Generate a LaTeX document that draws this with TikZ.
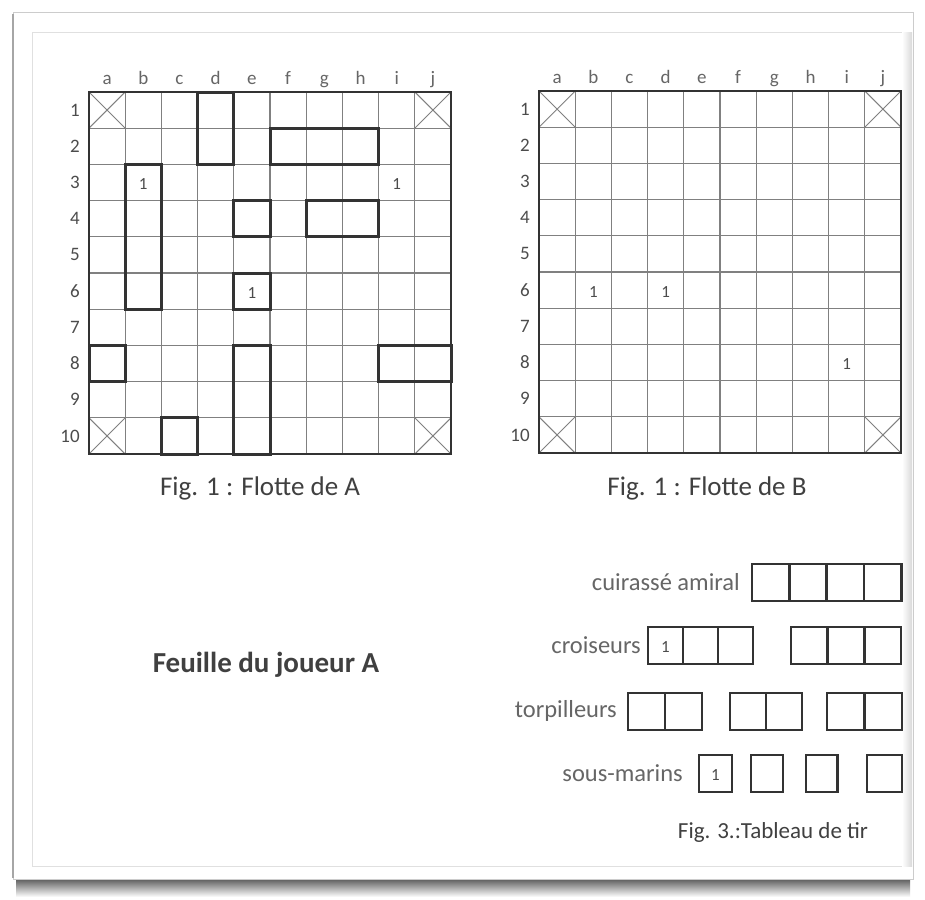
\documentclass[tikz,border=0pt]{standalone}
\usepackage{fontspec}
\setmainfont{Carlito}
\usetikzlibrary{positioning}
\tikzset{
  gridline/.style={black!50, line width=1.1pt},
  gridframe/.style={black!80, line width=2pt},
  ship/.style={black!80, line width=3pt},
  cross/.style={black!50, line width=1pt},
  shot/.style={font=\fontsize{17}{17}\selectfont, text=black!70, inner sep=0pt},
  collabel/.style={font=\fontsize{19}{19}\selectfont, text=black!60, inner sep=0pt, anchor=base},
  rowlabel/.style={font=\fontsize{19}{19}\selectfont, text=black!70, inner sep=0pt, anchor=east},
  caption/.style={font=\fontsize{27}{27}\selectfont, text=black!75},
  tirlabel/.style={font=\fontsize{24.5}{24.5}\selectfont, text=black!60, inner sep=0pt},
  tirbox/.style={black!80, line width=2.6pt},
}

\begin{document}
\begin{tikzpicture}[x=1pt,y=-1pt]
    \useasboundingbox (0,0) rectangle (925,899);
    \fill[white] (0,0) rectangle (925,899);
    \shade[top color=black!60, bottom color=white] (16,880) rectangle (910,897);
    \draw[black!20, line width=1pt] (13,13) rectangle (913,879);
    \draw[black!35, line width=2pt] (13,14) -- (13,878);
    \draw[black!12] (32,32) rectangle (906,866);
    \shade[left color=white, right color=black!15] (902,33) rectangle (912,866);

    \foreach \g/\ox/\oy in {A/89/92, B/539/91} {
      \begin{scope}[shift={(\ox,\oy)}, x=36.2pt, y=-36.2pt]
        \foreach \i in {1,...,9} {
          \draw[gridline] (\i,0) -- (\i,10);
          \draw[gridline] (0,\i) -- (10,\i);
        }
        \foreach \cx/\cy in {0/0, 9/0, 0/9, 9/9}
          \draw[cross] (\cx,\cy) -- ++(1,1) (\cx+1,\cy) -- ++(-1,1);
        \draw[gridframe] (0,0) rectangle (10,10);
        \foreach \l [count=\i] in {a,...,j}
          \node[collabel] (col\g-\i) at (\i-0.5,-0.2) {\l};
        \foreach \i in {1,...,10}
          \node[rowlabel] (row\g-\i) at (-0.25,\i-0.5) {\i};
      \end{scope}
    }

    \begin{scope}[shift={(89,92)}, x=36.2pt, y=-36.2pt]
      \foreach \x/\y/\w/\h in {3/0/1/2, 5/1/3/1, 1/2/1/4, 4/3/1/1, 6/3/2/1, 4/5/1/1, 0/7/1/1, 8/7/2/1, 4/7/1/3, 2/9/1/1}
        \draw[ship] (\x,\y) rectangle ++(\w,\h);
      \foreach \c/\r [count=\k] in {2/3, 9/3, 5/6}
        \node[shot] (shotA-\k) at (\c-0.5,\r-0.45) {1};
    \end{scope}
    \begin{scope}[shift={(539,91)}, x=36.2pt, y=-36.2pt]
      \foreach \c/\r [count=\k] in {2/6, 4/6, 9/8}
        \node[shot] (shotB-\k) at (\c-0.5,\r-0.45) {1};
    \end{scope}

    \node[caption] (figA) at (260,488) {Fig. 1 : Flotte de A};
    \node[caption] (figB) at (707,488) {Fig. 1 : Flotte de B};

    \foreach \x/\y/\n/\w in {752/564/4/37.3, 648/627/3/35, 791/627/3/36.7, 628/693/2/37, 730/693/2/36, 827/693/2/37.5, 699/755/1/33, 751/755/1/32, 806/755/1/31.5, 867/755/1/35} {
      \draw[tirbox] (\x,\y) rectangle ++(\n*\w,37);
      \foreach \k in {1,...,\n}
        \draw[tirbox] (\x+\k*\w,\y) -- ++(0,37);
    }
    \coordinate (cuir) at (752,582);
    \coordinate (crois) at (648,645);
    \coordinate (torp) at (628,711);
    \coordinate (sous) at (699,773);
    \node[tirlabel, left=12pt of cuir] (lcuir) {cuirassé amiral};
    \node[tirlabel, left=7pt of crois] (lcrois) {croiseurs};
    \node[tirlabel, left=11pt of torp] (ltorp) {torpilleurs};
    \node[tirlabel, left=16pt of sous] (lsous) {sous-marins};
    \node[shot] (shotT-1) at (665.5,647) {1};
    \node[shot] (shotT-2) at (715.5,775) {1};

    \node[font=\bfseries\fontsize{29}{29}\selectfont, text=black!75] (feuille) at (266,665) {Feuille du joueur A};
    \node[caption, font=\fontsize{23}{23}\selectfont] (figtir) at (773,832) {Fig. 3.:Tableau de tir};
  \end{tikzpicture}
\end{document}
